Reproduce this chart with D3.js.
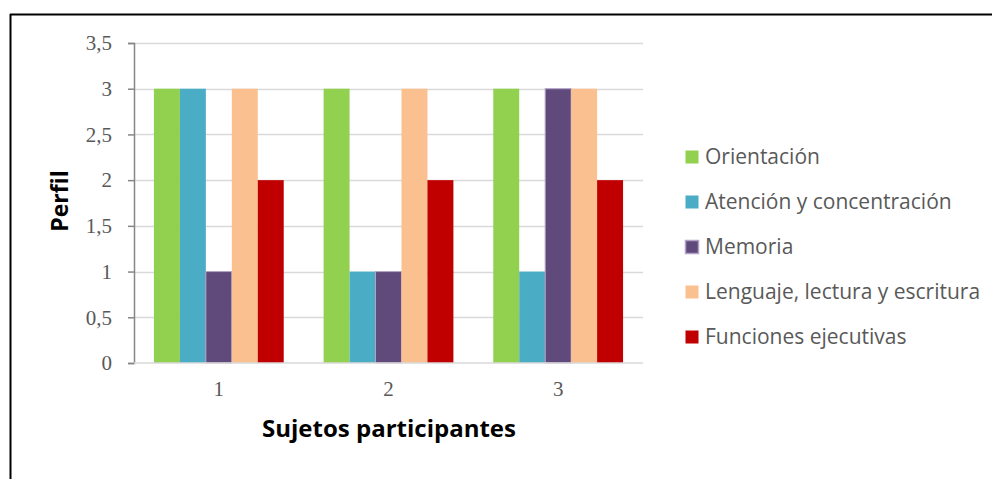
<!DOCTYPE html>
<html>
<head>
<meta charset="utf-8">
<script src="https://cdn.jsdelivr.net/npm/d3@7"></script>
<style>
  body { margin: 0; background: #fff; }
</style>
</head>
<body>
<div id="chart"></div>
<script>
// Chart data
const subjects = ["1", "2", "3"];
const seriesNames = ["Orientación", "Atención y concentración", "Memoria", "Lenguaje, lectura y escritura", "Funciones ejecutivas"];
const seriesColors = ["#92D050", "#4BACC6", "#604A7B", "#FAC090", "#C00000"];
const seriesStrokes = ["none", "none", "#B3A2C7", "none", "none"];
const orientacion = [3, 3, 3];
const atencion = [3, 1, 1];
const memoria = [1, 1, 3];
const lenguaje = [3, 3, 3];
const funciones = [2, 2, 2];
const yTicks = [0, 0.5, 1, 1.5, 2, 2.5, 3, 3.5];

const allSeries = [orientacion, atencion, memoria, lenguaje, funciones];

const width = 992, height = 479;
const plot = { left: 134, right: 643, top: 43, bottom: 363 };

const svg = d3.select("#chart").append("svg")
    .attr("width", width)
    .attr("height", height);

// Frame round the chart
svg.append("line")
    .attr("x1", 10).attr("x2", width).attr("y1", 14.5).attr("y2", 14.5)
    .attr("stroke", "#000").attr("stroke-width", 2);
svg.append("line")
    .attr("x1", 10.5).attr("x2", 10.5).attr("y1", 14).attr("y2", height)
    .attr("stroke", "#000").attr("stroke-width", 2);

// Scales
const x0 = d3.scaleBand()
    .domain(subjects)
    .range([plot.left, plot.right])
    .paddingInner(0.235)
    .paddingOuter(0.1175);

const x1 = d3.scaleBand()
    .domain(d3.range(seriesNames.length))
    .range([0, x0.bandwidth()]);

const y = d3.scaleLinear()
    .domain([0, 3.5])
    .range([plot.bottom, plot.top]);

// Gridlines
svg.append("g")
    .selectAll("line")
    .data(yTicks.filter(d => d > 0))
    .enter().append("line")
    .attr("x1", plot.left)
    .attr("x2", plot.right)
    .attr("y1", d => Math.round(y(d)) + 0.5)
    .attr("y2", d => Math.round(y(d)) + 0.5)
    .attr("stroke", "#D9D9D9")
    .attr("stroke-width", 1.5);

// Bars
const groups = svg.append("g")
    .selectAll("g")
    .data(subjects)
    .enter().append("g")
    .attr("transform", d => "translate(" + x0(d) + ",0)");

groups.selectAll("rect")
    .data((d, i) => allSeries.map((s, k) => ({ k: k, v: s[i] })))
    .enter().append("rect")
    .attr("x", d => x1(d.k))
    .attr("y", d => y(d.v))
    .attr("width", x1.bandwidth())
    .attr("height", d => y(0) - y(d.v))
    .attr("fill", d => seriesColors[d.k])
    .attr("stroke", d => seriesStrokes[d.k])
    .attr("stroke-width", 1);

// Y axis
const yAxis = svg.append("g")
    .attr("transform", "translate(" + plot.left + ",0)")
    .call(d3.axisLeft(y).tickValues(yTicks).tickSize(6).tickPadding(16)
        .tickFormat(d => String(d).replace(".", ",")));
yAxis.select(".domain").attr("stroke", "#868686").attr("stroke-width", 1.5);
yAxis.selectAll(".tick line").attr("stroke", "#868686").attr("stroke-width", 1.5);
yAxis.selectAll("text")
    .attr("fill", "#595959")
    .style("font-family", "'Liberation Serif', 'Times New Roman', serif")
    .style("font-size", "21px");

// X axis
const xAxis = svg.append("g")
    .attr("transform", "translate(0," + plot.bottom + ")")
    .call(d3.axisBottom(x0).tickSize(0).tickPadding(18));
xAxis.select(".domain").attr("d", "M" + plot.left + ",0H" + plot.right)
    .attr("stroke", "#D9D9D9").attr("stroke-width", 1.5);
xAxis.selectAll("text")
    .attr("fill", "#595959")
    .style("font-family", "'Liberation Serif', 'Times New Roman', serif")
    .style("font-size", "21px");

// Axis titles
svg.append("text")
    .attr("transform", "translate(68,201) rotate(-90)")
    .attr("text-anchor", "middle")
    .style("font-family", "'Open Sans', sans-serif")
    .style("font-weight", "bold")
    .style("font-size", "23px")
    .text("Perfil");

svg.append("text")
    .attr("x", 389)
    .attr("y", 437)
    .attr("text-anchor", "middle")
    .style("font-family", "'Open Sans', sans-serif")
    .style("font-weight", "bold")
    .style("font-size", "24px")
    .text("Sujetos participantes");

// Legend
const legend = svg.append("g")
    .selectAll("g")
    .data(seriesNames)
    .enter().append("g")
    .attr("transform", (d, i) => "translate(685," + (157 + i * 45) + ")");

legend.append("rect")
    .attr("x", 0.5)
    .attr("y", -6.5)
    .attr("width", 13)
    .attr("height", 13)
    .attr("fill", (d, i) => seriesColors[i])
    .attr("stroke", (d, i) => seriesStrokes[i] === "none" ? "none" : seriesStrokes[i])
    .attr("stroke-width", 1.5);

legend.append("text")
    .attr("x", 20)
    .attr("dy", "0.35em")
    .attr("fill", "#595959")
    .style("font-family", "'Open Sans', sans-serif")
    .style("font-size", "21px")
    .text(d => d);
</script>
</body>
</html>
